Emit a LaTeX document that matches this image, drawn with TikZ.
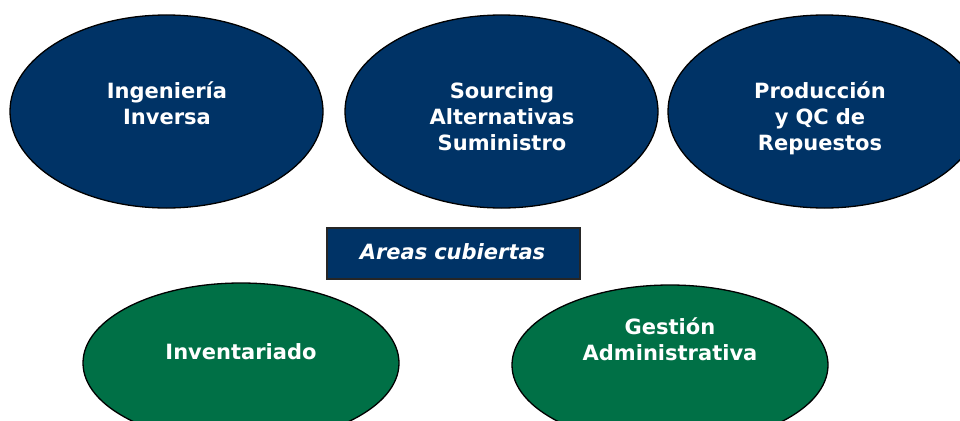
\documentclass[tikz,border=0pt]{standalone}
\usepackage{fontspec}
\setmainfont{DejaVu Sans}
\usetikzlibrary{shapes.geometric}
\definecolor{navy}{RGB}{0,51,102}
\definecolor{dgreen}{RGB}{0,112,70}
\begin{document}
\begin{tikzpicture}[x=1pt,y=-1pt,
  oval/.style={ellipse, draw=black, line width=1.3pt, inner sep=0pt, minimum width=313pt, minimum height=193pt},
  navyoval/.style={oval, fill=navy},
  greenoval/.style={oval, fill=dgreen, minimum width=316pt, minimum height=160pt},
  lbl/.style={text=white, font=\fontsize{21}{26}\selectfont\bfseries, align=center, text width=300pt, anchor=base, inner sep=0pt},
  areabox/.style={draw=black!85, line width=1.2pt, fill=navy, minimum width=253pt, minimum height=51pt, inner sep=0pt}
  ]
\useasboundingbox (0,0) rectangle (960,420);
\clip (0,0) rectangle (960,420);
\fill[white] (0,0) rectangle (960,420);
% top ovals
\node[navyoval] (e1) at (166.5,111.5) {};
\node[navyoval] (e2) at (501.5,111.5) {};
\node[navyoval] (e3) at (824.5,111.5) {};
\node[lbl] (t1) at (167,98) {Ingeniería\\Inversa};
\node[lbl] (t2) at (502,98) {Sourcing\\Alternativas\\Suministro};
\node[lbl] (t3) at (820,98) {Producción\\y QC de\\Repuestos};
% box
\node[areabox] (box) at (453.5,253.5) {};
\node[lbl, font=\fontsize{21}{26}\selectfont\bfseries\itshape] (tb) at (452.5,259) {Areas cubiertas};
% bottom ovals
\node[greenoval] (g1) at (241,363) {};
\node[greenoval] (g2) at (670,365) {};
\node[lbl] (tg1) at (241,359) {Inventariado};
\node[lbl] (tg2) at (670,334) {Gestión\\Administrativa};
\end{tikzpicture}
\end{document}
